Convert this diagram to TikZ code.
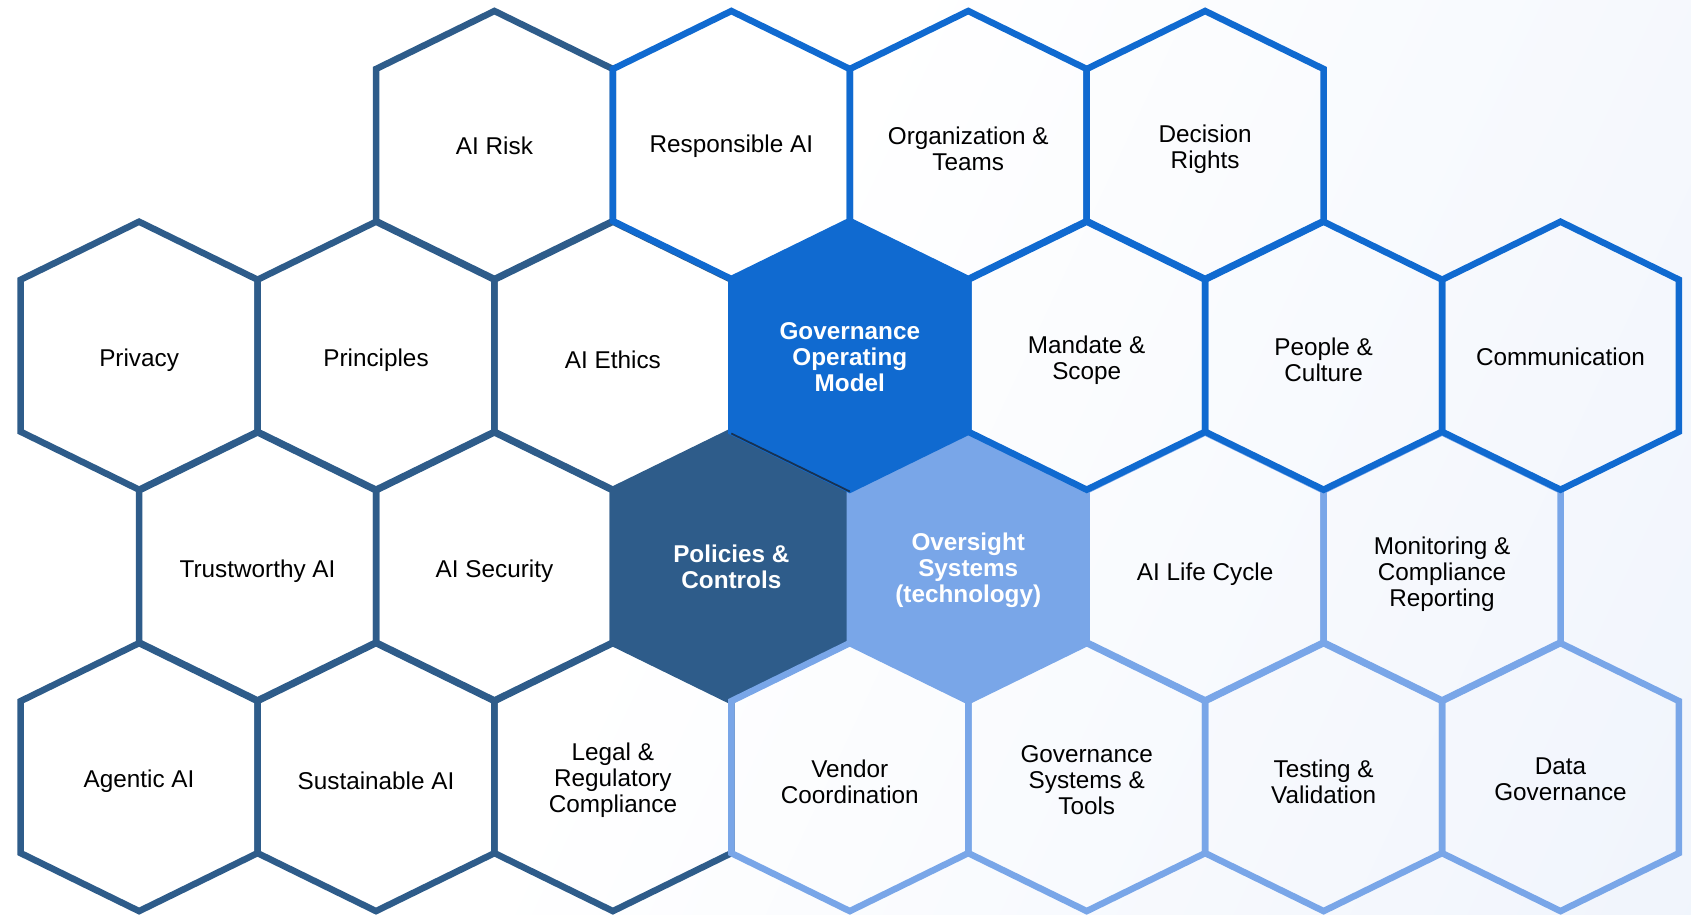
\documentclass[tikz,border=0pt]{standalone}
\usepackage{fontspec}
\setmainfont{Liberation Sans}
\definecolor{cdark}{RGB}{46,92,138}
\definecolor{cblue}{RGB}{16,106,208}
\definecolor{clight}{RGB}{121,166,232}
\definecolor{cbg}{RGB}{234,240,251}
\definecolor{cedge}{RGB}{24,50,82}
\pgfdeclarehorizontalshading{bgshade}{100bp}{color(0bp)=(white); color(45bp)=(white); color(100bp)=(cbg)}
\tikzset{
  hexa/.pic={\path[pic actions] (0,-134) -- (118.45,-76) -- (118.45,76) -- (0,134) -- (-118.45,76) -- (-118.45,-76) -- cycle;},
  darkhex/.style={draw=cdark,line width=6.5pt,line join=miter},
  bluehex/.style={draw=cblue,line width=6.5pt,line join=miter},
  lighthex/.style={draw=clight,line width=6.5pt,line join=miter},
  lbl/.style={align=center,text=black,font=\fontsize{24.3}{26}\selectfont,inner sep=0pt},
  corelbl/.style={align=center,text=white,font=\fontsize{24.3}{26}\selectfont\bfseries,inner sep=0pt}
}
\begin{document}
\begin{tikzpicture}[x=1pt,y=-1pt]
\useasboundingbox (0,0) rectangle (1691,914);
\shade[shading=bgshade, shading angle=-25] (0,0) rectangle (1691,914);
% dark group
\pic[darkhex] (hRisk) at (494.45,145) {hexa};
\pic[darkhex] (hPriv) at (139.1,355.7) {hexa};
\pic[darkhex] (hPrin) at (376.0,355.7) {hexa};
\pic[darkhex] (hEth) at (612.9,355.7) {hexa};
\pic[darkhex] (hTrust) at (257.55,566.4) {hexa};
\pic[darkhex] (hSec) at (494.45,566.4) {hexa};
\pic[darkhex] (hAgent) at (139.1,777.1) {hexa};
\pic[darkhex] (hSust) at (376.0,777.1) {hexa};
\pic[darkhex] (hLegal) at (612.9,777.1) {hexa};
\pic[darkhex,fill=cdark] (hPol) at (731.35,566.4) {hexa};
% light group
\pic[lighthex,fill=clight] (hOver) at (968.25,566.4) {hexa};
\pic[lighthex] (hLife) at (1205.15,566.4) {hexa};
\pic[lighthex] (hMon) at (1442.05,566.4) {hexa};
\pic[lighthex] (hVend) at (849.8,777.1) {hexa};
\pic[lighthex] (hGSys) at (1086.7,777.1) {hexa};
\pic[lighthex] (hTest) at (1323.6,777.1) {hexa};
\pic[lighthex] (hData) at (1560.5,777.1) {hexa};
% blue group
\pic[bluehex] (hResp) at (731.35,145) {hexa};
\pic[bluehex] (hOrg) at (968.25,145) {hexa};
\pic[bluehex] (hDec) at (1205.15,145) {hexa};
\pic[bluehex] (hMand) at (1086.7,355.7) {hexa};
\pic[bluehex] (hPeop) at (1323.6,355.7) {hexa};
\pic[bluehex] (hComm) at (1560.5,355.7) {hexa};
\pic[bluehex,fill=cblue] (hGom) at (849.8,355.7) {hexa};
% thin edge between GOM and Policies
\coordinate (eA) at (731.35,433.5);
\coordinate (eB) at (849.8,491.5);
\draw[cedge,line width=1.8pt] (eA) -- (eB);
% labels
\node[lbl] (tRisk) at (494.45,146) {AI Risk};
\node[lbl] (tResp) at (731.35,146) {Responsible AI};
\node[lbl] (tOrg) at (968.25,149) {Organization \&\\Teams};
\node[lbl] (tDec) at (1205.15,149) {Decision\\Rights};
\node[lbl] (tPriv) at (139.1,360) {Privacy};
\node[lbl] (tPrin) at (376.0,360) {Principles};
\node[lbl] (tEth) at (612.9,360) {AI Ethics};
\node[corelbl] (tGom) at (849.8,357) {Governance\\Operating\\Model};
\node[lbl] (tMand) at (1086.7,360) {Mandate \&\\Scope};
\node[lbl] (tPeop) at (1323.6,360) {People \&\\Culture};
\node[lbl] (tComm) at (1560.5,357) {Communication};
\node[lbl] (tTrust) at (257.55,571) {Trustworthy AI};
\node[lbl] (tSec) at (494.45,571) {AI Security};
\node[corelbl] (tPol) at (731.35,567) {Policies \&\\Controls};
\node[corelbl] (tOver) at (968.25,570) {Oversight\\Systems\\(technology)};
\node[lbl] (tLife) at (1205.15,574) {AI Life Cycle};
\node[lbl] (tMon) at (1442.05,574) {Monitoring \&\\Compliance\\Reporting};
\node[lbl] (tAgent) at (139.1,781) {Agentic AI};
\node[lbl] (tSust) at (376.0,781) {Sustainable AI};
\node[lbl] (tLegal) at (612.9,780) {Legal \&\\Regulatory\\Compliance};
\node[lbl] (tVend) at (849.8,782) {Vendor\\Coordination};
\node[lbl] (tGSys) at (1086.7,780) {Governance\\Systems \&\\Tools};
\node[lbl] (tTest) at (1323.6,782) {Testing \&\\Validation};
\node[lbl] (tData) at (1560.5,779) {Data\\Governance};
\end{tikzpicture}
\end{document}
